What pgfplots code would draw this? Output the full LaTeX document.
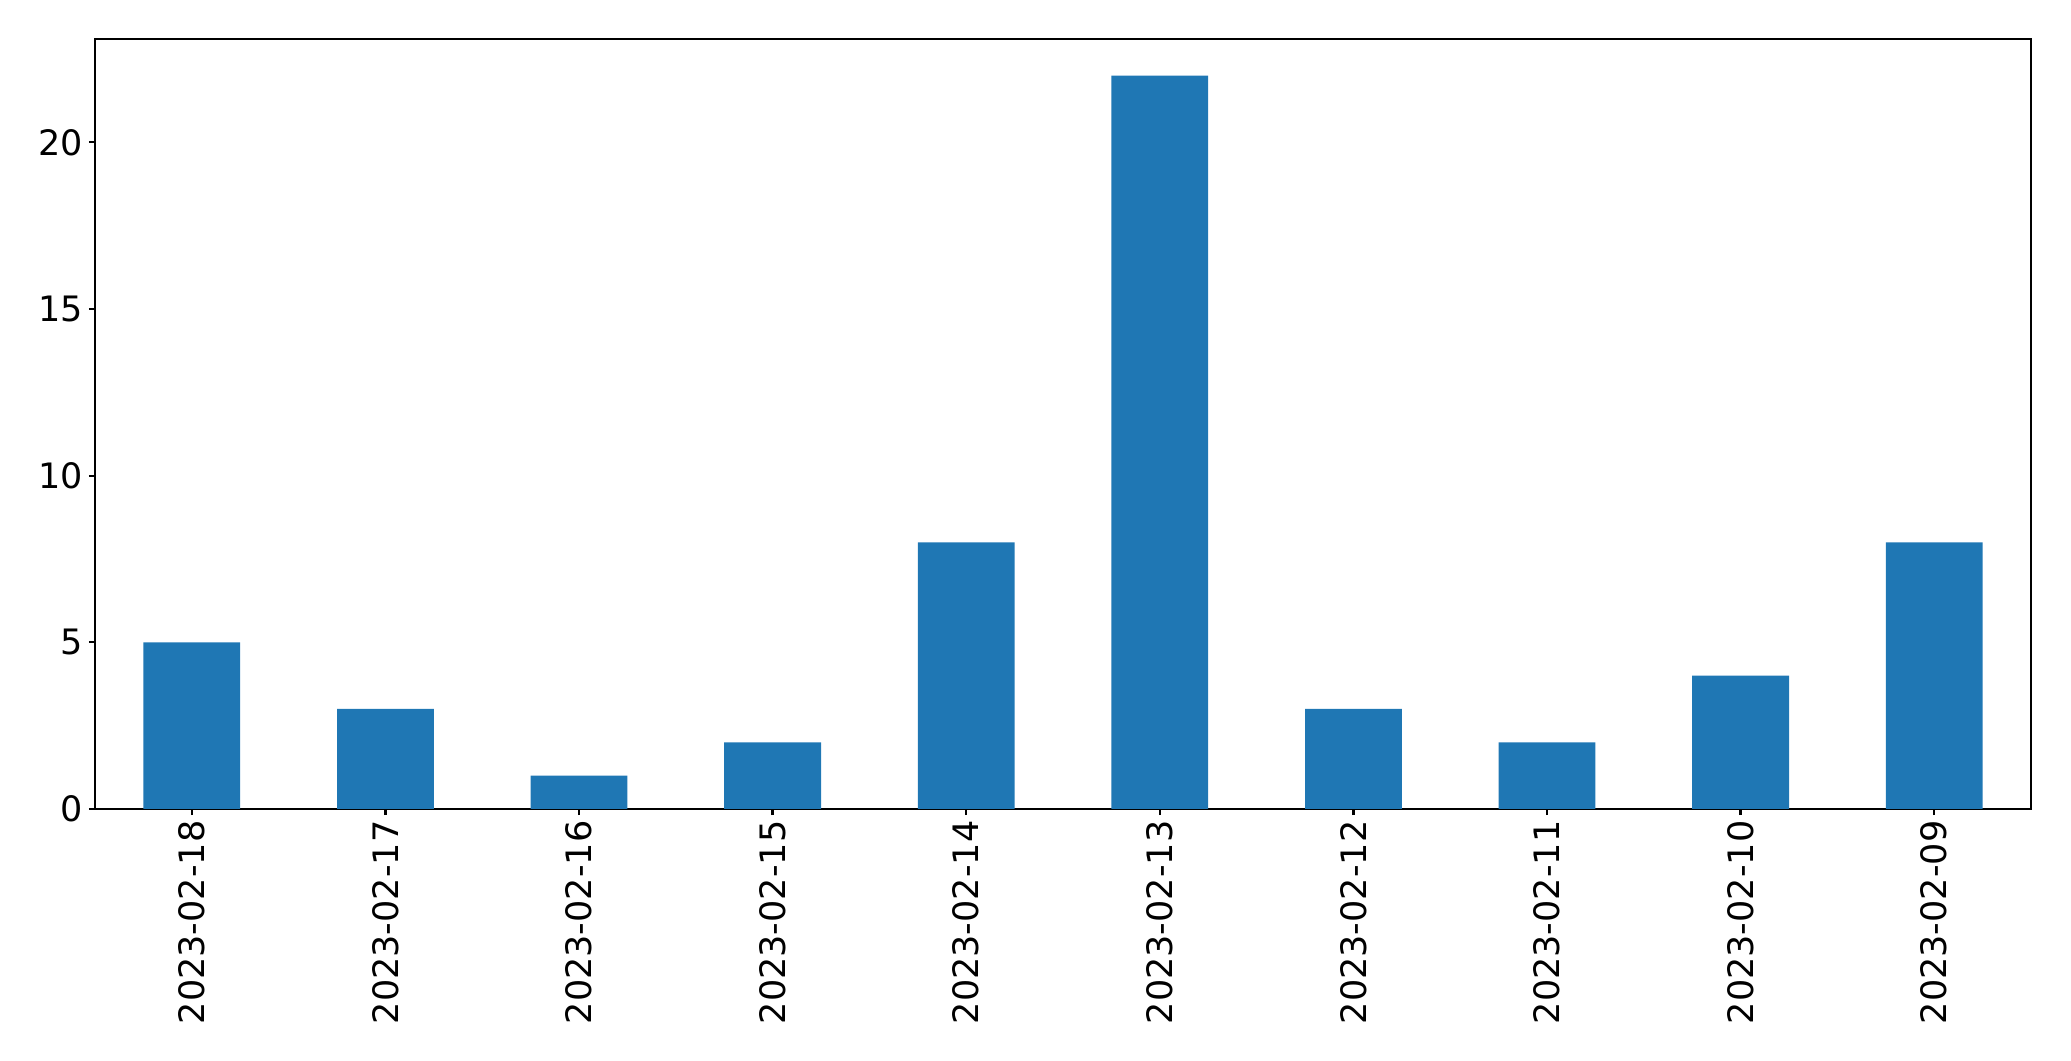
\documentclass[border=0pt]{standalone}
\usepackage{fontspec}
\setmainfont{DejaVu Sans}
\usepackage{pgfplots}
\pgfplotsset{compat=1.18}
\definecolor{mplblue}{HTML}{1F77B4}
\begin{document}
\begin{tikzpicture}
\begin{axis}[
  scale only axis,
  width=696.96pt, height=277.2pt,
  xmin=-0.5, xmax=9.5,
  ymin=0, ymax=23.1,
  xtick={0,...,9},
  xticklabels={2023-02-18,2023-02-17,2023-02-16,2023-02-15,2023-02-14,2023-02-13,2023-02-12,2023-02-11,2023-02-10,2023-02-09},
  ytick={0,5,10,15,20},
  tick align=outside,
  major tick length=2.2pt,
  xtick pos=bottom, ytick pos=left,
  axis line style={line width=0.8pt},
  every tick/.style={black, line width=0.8pt},
  tick label style={font=\fontsize{12.6pt}{15pt}\selectfont},
  /pgf/number format/assume math mode=true,
  xticklabel style={rotate=90, anchor=east, inner sep=0pt, xshift=-1.8pt},
  yticklabel style={inner sep=0pt, xshift=-2pt},
]
\addplot[ybar, bar width=0.5, fill=mplblue, draw=none, bar shift=0pt] coordinates {
  (0,5) (1,3) (2,1) (3,2) (4,8) (5,22) (6,3) (7,2) (8,4) (9,8)
};
\coordinate (sw) at (rel axis cs:0,0);
\coordinate (ne) at (rel axis cs:1,1);
\end{axis}
\pgfresetboundingbox
\useasboundingbox ([shift={(-34.2pt,-90.72pt)}]sw) rectangle ([shift={(14.4pt,14.04pt)}]ne);
\end{tikzpicture}
\end{document}
